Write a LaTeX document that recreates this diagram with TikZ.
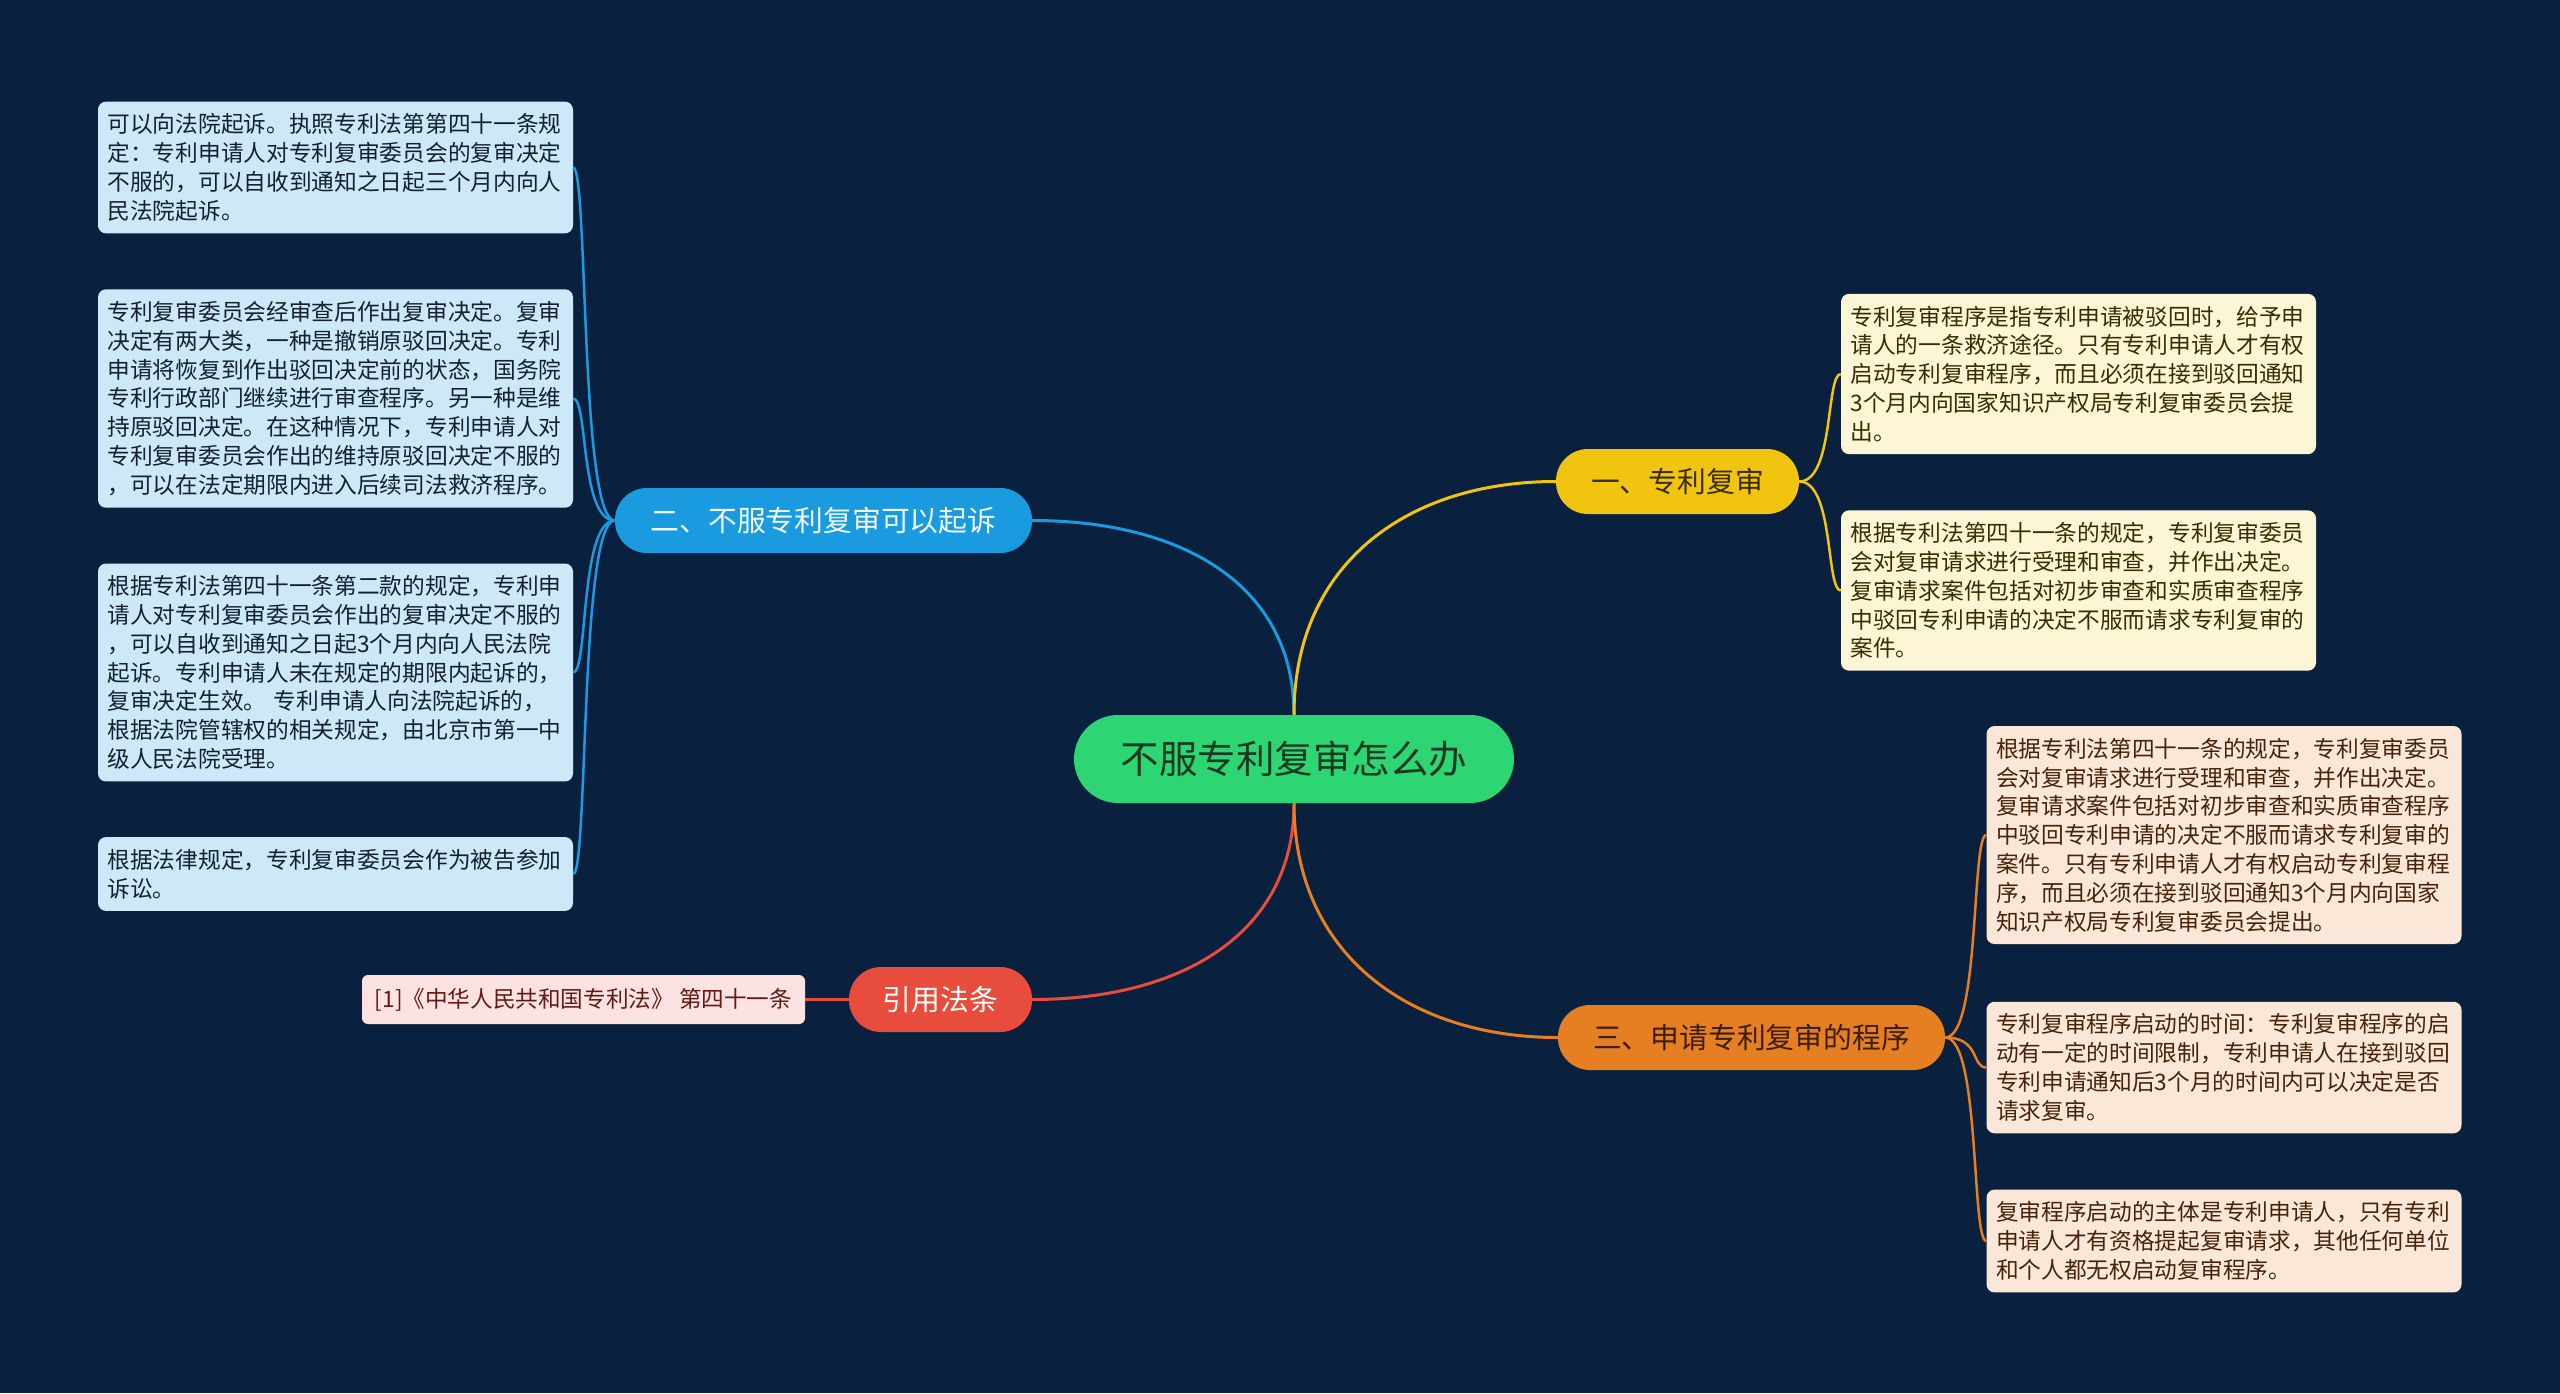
\documentclass[tikz,border=0pt]{standalone}
\usepackage{fontspec}
\setmainfont{Noto Sans CJK SC}
\usepackage{tikz}
\usetikzlibrary{calc}

\definecolor{bgnavy}{RGB}{9,33,62}
\definecolor{rootgreen}{RGB}{46,213,115}
\definecolor{roottext}{RGB}{24,58,34}
\definecolor{bluetopic}{RGB}{26,155,224}
\definecolor{bluetext}{RGB}{240,248,255}
\definecolor{yellowtopic}{RGB}{241,196,15}
\definecolor{yellowtext}{RGB}{60,45,0}
\definecolor{redtopic}{RGB}{231,76,60}
\definecolor{orangetopic}{RGB}{230,126,34}
\definecolor{orangetext}{RGB}{60,30,5}
\definecolor{blueleaf}{RGB}{205,233,247}
\definecolor{blueleaftext}{RGB}{20,32,45}
\definecolor{yellowleaf}{RGB}{253,246,214}
\definecolor{yellowleaftext}{RGB}{55,45,0}
\definecolor{orangeleaf}{RGB}{251,231,215}
\definecolor{orangeleaftext}{RGB}{70,35,10}
\definecolor{redleaf}{RGB}{252,226,224}
\definecolor{redleaftext}{RGB}{100,25,20}

\tikzset{
    root/.style={fill=rootgreen, text=roottext, rounded corners=44pt,
        minimum width=440pt, minimum height=88pt, font=\fontsize{38.5}{44}\selectfont},
    topic/.style={rounded corners=32pt, minimum height=65pt,
        font=\fontsize{28.8}{34}\selectfont},
    leaf/.style={rounded corners=8pt, text width=456pt, inner xsep=9.5pt,
        inner ysep=12pt, align=left, font=\fontsize{22.7}{28.8}\selectfont},
    link/.style={line width=3pt},
    twig/.style={line width=2.5pt},
}

\begin{document}
\begin{tikzpicture}[x=1pt,y=-1pt]
    \fill[bgnavy] (0,0) rectangle (2560,1393);

    \node[root] (hub) at (1294,759) {不服专利复审怎么办};

    \node[topic, fill=bluetopic, text=bluetext, minimum width=417pt] (sue) at (823.5,520.5) {二、不服专利复审可以起诉};
    \node[topic, fill=yellowtopic, text=yellowtext, minimum width=243pt] (review) at (1677.5,481.5) {一、专利复审};
    \node[topic, fill=redtopic, text=white, minimum width=183pt] (law) at (940.5,999.5) {引用法条};
    \node[topic, fill=orangetopic, text=orangetext, minimum width=387pt] (steps) at (1751.5,1037.5) {三、申请专利复审的程序};

    \node[leaf, fill=blueleaf, text=blueleaftext] (sue1) at (335.5,167.5) {可以向法院起诉。执照专利法第第四十一条规\\定：专利申请人对专利复审委员会的复审决定\\不服的，可以自收到通知之日起三个月内向人\\民法院起诉。};
    \node[leaf, fill=blueleaf, text=blueleaftext] (sue2) at (335.5,398.5) {专利复审委员会经审查后作出复审决定。复审\\决定有两大类，一种是撤销原驳回决定。专利\\申请将恢复到作出驳回决定前的状态，国务院\\专利行政部门继续进行审查程序。另一种是维\\持原驳回决定。在这种情况下，专利申请人对\\专利复审委员会作出的维持原驳回决定不服的\\，可以在法定期限内进入后续司法救济程序。};
    \node[leaf, fill=blueleaf, text=blueleaftext] (sue3) at (335.5,672.5) {根据专利法第四十一条第二款的规定，专利申\\请人对专利复审委员会作出的复审决定不服的\\，可以自收到通知之日起3个月内向人民法院\\起诉。专利申请人未在规定的期限内起诉的，\\复审决定生效。 专利申请人向法院起诉的，\\根据法院管辖权的相关规定，由北京市第一中\\级人民法院受理。};
    \node[leaf, fill=blueleaf, text=blueleaftext] (sue4) at (335.5,874) {根据法律规定，专利复审委员会作为被告参加\\诉讼。};

    \node[leaf, fill=yellowleaf, text=yellowleaftext] (review1) at (2078.5,374) {专利复审程序是指专利申请被驳回时，给予申\\请人的一条救济途径。只有专利申请人才有权\\启动专利复审程序，而且必须在接到驳回通知\\3个月内向国家知识产权局专利复审委员会提\\出。};
    \node[leaf, fill=yellowleaf, text=yellowleaftext] (review2) at (2078.5,590.5) {根据专利法第四十一条的规定，专利复审委员\\会对复审请求进行受理和审查，并作出决定。\\复审请求案件包括对初步审查和实质审查程序\\中驳回专利申请的决定不服而请求专利复审的\\案件。};

    \node[leaf, fill=orangeleaf, text=orangeleaftext] (steps1) at (2224,835) {根据专利法第四十一条的规定，专利复审委员\\会对复审请求进行受理和审查，并作出决定。\\复审请求案件包括对初步审查和实质审查程序\\中驳回专利申请的决定不服而请求专利复审的\\案件。只有专利申请人才有权启动专利复审程\\序，而且必须在接到驳回通知3个月内向国家\\知识产权局专利复审委员会提出。};
    \node[leaf, fill=orangeleaf, text=orangeleaftext] (steps2) at (2224,1067.5) {专利复审程序启动的时间：专利复审程序的启\\动有一定的时间限制，专利申请人在接到驳回\\专利申请通知后3个月的时间内可以决定是否\\请求复审。};
    \node[leaf, fill=orangeleaf, text=orangeleaftext] (steps3) at (2224,1241) {复审程序启动的主体是专利申请人，只有专利\\申请人才有资格提起复审请求，其他任何单位\\和个人都无权启动复审程序。};

    \node[fill=redleaf, text=redleaftext, rounded corners=6pt, minimum width=443pt,
        minimum height=49pt, font=\fontsize{22.6}{26}\selectfont] (law1) at (583.5,999.5) {[1]《中华人民共和国专利法》 第四十一条};

    \draw[link, bluetopic] (hub.north) .. controls +(0,-130) and +(150,0) .. (sue.east);
    \draw[link, yellowtopic] (hub.north) .. controls +(0,-150) and +(-150,0) .. (review.west);
    \draw[link, redtopic] (hub.south) .. controls +(0,130) and +(150,0) .. (law.east);
    \draw[link, orangetopic] (hub.south) .. controls +(0,150) and +(-150,0) .. (steps.west);

    \draw[twig, bluetopic] (sue.west) .. controls +(-35,0) and +(15,0) .. (sue1.east);
    \draw[twig, bluetopic] (sue.west) .. controls +(-35,0) and +(15,0) .. (sue2.east);
    \draw[twig, bluetopic] (sue.west) .. controls +(-35,0) and +(15,0) .. (sue3.east);
    \draw[twig, bluetopic] (sue.west) .. controls +(-35,0) and +(15,0) .. (sue4.east);

    \draw[twig, yellowtopic] (review.east) .. controls +(35,0) and +(-15,0) .. (review1.west);
    \draw[twig, yellowtopic] (review.east) .. controls +(35,0) and +(-15,0) .. (review2.west);

    \draw[twig, orangetopic] (steps.east) .. controls +(35,0) and +(-15,0) .. (steps1.west);
    \draw[twig, orangetopic] (steps.east) .. controls +(35,0) and +(-15,0) .. (steps2.west);
    \draw[twig, orangetopic] (steps.east) .. controls +(35,0) and +(-15,0) .. (steps3.west);

    \draw[twig, redtopic] (law.west) -- (law1.east);
\end{tikzpicture}
\end{document}
